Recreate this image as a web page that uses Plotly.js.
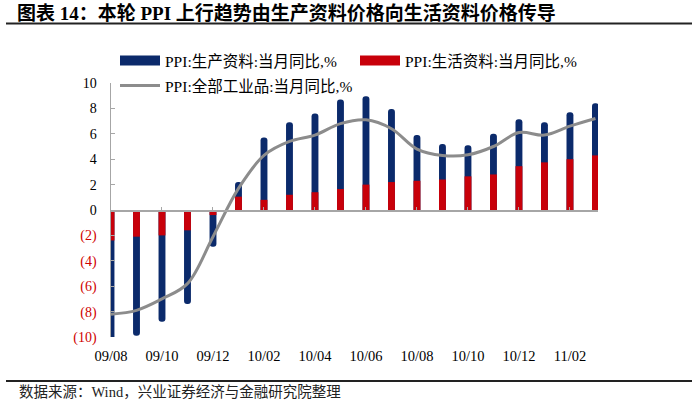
<!DOCTYPE html>
<html>
<head>
<meta charset="utf-8">
<script src="https://cdn.plot.ly/plotly-3.0.1.min.js"></script>
<style>
html,body{margin:0;padding:0;background:#fff;}
#chart{width:700px;height:401px;}
</style>
</head>
<body>
<div id="chart"></div>
<script>
// ---- data ----
var months = ['09/08','09/09','09/10','09/11','09/12','10/01','10/02','10/03','10/04','10/05',
              '10/06','10/07','10/08','10/09','10/10','10/11','10/12','11/01','11/02','11/03'];
var producer = [-10.6, -9.9, -8.8, -7.4, -2.9, 2.2, 5.7, 6.9, 7.6, 8.7,
                 8.95, 7.95, 5.9, 5.2, 5.1, 6.0, 7.15, 6.9, 7.7, 8.4];
var consumer = [-2.4, -2.1, -2.0, -1.6, -0.4, 1.05, 0.8, 1.2, 1.4, 1.65,
                 2.0, 2.2, 2.3, 2.4, 2.65, 2.8, 3.45, 3.75, 4.0, 4.3];
var overall  = [-8.2, -7.9, -7.0, -5.8, -2.1, 1.7, 4.3, 5.4, 5.9, 6.8,
                 7.1, 6.4, 4.8, 4.3, 4.35, 5.0, 6.1, 5.9, 6.6, 7.2];
var nameProducer = 'PPI:生产资料:当月同比,%';
var nameConsumer = 'PPI:生活资料:当月同比,%';
var nameOverall  = 'PPI:全部工业品:当月同比,%';
var yTickVals = [10, 8, 6, 4, 2, 0, -2, -4, -6, -8, -10];
var titleText = '图表 14：本轮 PPI 上行趋势由生产资料价格向生活资料价格传导';
var sourceText = '数据来源：Wind，兴业证券经济与金融研究院整理';

// ---- derived ----
var xTickVals = months.filter(function(m, i){ return i % 2 === 0; });
var yTickText = yTickVals.map(function(v){
  return v < 0 ? '<span style="color:#d00000">(' + Math.abs(v) + ')</span>' : String(v);
});

var BLUE = '#0b2a6b', RED = '#c8000a', GRAY = '#8c8c8c';
var serif = '"Liberation Serif", "Noto Sans CJK SC", serif';

var traces = [
  {type:'bar', x:months, y:producer, name:nameProducer, marker:{color:BLUE, cornerradius:'50%'},
   width:0.27, showlegend:false, hoverinfo:'y'},
  {type:'bar', x:months, y:consumer, name:nameConsumer, marker:{color:RED, cornerradius:'50%'},
   width:0.27, showlegend:false, hoverinfo:'y'},
  {type:'scatter', mode:'lines', x:months, y:overall, name:nameOverall, xaxis:'x2',
   line:{color:GRAY, width:3, shape:'spline', smoothing:1}, legend:'legend2'},
  // legend swatches
  {type:'scatter', mode:'lines', x:[null], y:[null], name:nameProducer,
   line:{color:BLUE, width:10}, legend:'legend', hoverinfo:'skip'},
  {type:'scatter', mode:'lines', x:[null], y:[null], name:nameConsumer,
   line:{color:RED, width:10}, legend:'legend3', hoverinfo:'skip'}
];

var L = 111, R = 102, T = 83, B = 64;
var W = 700 - L - R, H = 401 - T - B;
function px(xp){ return (xp - L) / W; }
function py(yp){ return (401 - B - yp) / H; }
var legFont = {family:serif, size:15.5, color:'#000'};
function leg(xp, yp){
  return {orientation:'h', x:px(xp), xanchor:'left', y:py(yp), yanchor:'middle',
          itemwidth:40, font:legFont, bgcolor:'rgba(0,0,0,0)', borderwidth:0};
}

var layout = {
  width:700, height:401,
  margin:{l:L, r:R, t:T, b:B, pad:0},
  paper_bgcolor:'#fff', plot_bgcolor:'#fff',
  barmode:'overlay',
  font:{family:serif, size:14, color:'#000'},
  title:{text:'<b>' + titleText + '</b>', xref:'container', yref:'container',
         x:17/700, xanchor:'left', y:1 - 13/401, yanchor:'middle',
         font:{family:serif, size:19, color:'#000'}},
  xaxis:{type:'category', range:[0, 19.1], showline:false, showgrid:false, zeroline:false,
         tickmode:'array', tickvals:xTickVals, ticktext:xTickVals, ticks:'',
         ticklabelstandoff:8, tickfont:{family:serif, size:14.5, color:'#000'}, fixedrange:true},
  xaxis2:{type:'category', overlaying:'x', anchor:'free', position:0.5, range:[0, 19.1],
          showline:true, linecolor:'#a6a6a6', linewidth:1.5, showgrid:false, zeroline:false,
          tickmode:'array', tickvals:xTickVals, ticks:'inside', ticklen:3, tickcolor:'#a6a6a6',
          showticklabels:false, fixedrange:true},
  yaxis:{range:[-10, 10], tickmode:'array', tickvals:yTickVals, ticktext:yTickText,
         showline:true, linecolor:'#a6a6a6', linewidth:1.5, ticks:'inside', ticklen:4,
         tickcolor:'#a6a6a6', showgrid:false, zeroline:false, ticklabelstandoff:10,
         tickfont:{family:serif, size:14, color:'#000'}, fixedrange:true},
  legend: leg(115, 61),
  legend3: leg(355, 61),
  legend2: leg(115, 86),
  shapes:[
    {type:'line', xref:'paper', yref:'paper', x0:px(6), x1:px(692), y0:py(23.5), y1:py(23.5),
     line:{color:'#222', width:2}},
    {type:'line', xref:'paper', yref:'paper', x0:px(6), x1:px(692), y0:py(381), y1:py(381),
     line:{color:'#222', width:2}}
  ],
  annotations:[
    {text:sourceText, xref:'paper', yref:'paper', x:px(17), y:py(392), xanchor:'left',
     yanchor:'middle', showarrow:false, font:{family:serif, size:14.5, color:'#222'}}
  ]
};

Plotly.newPlot('chart', traces, layout, {displayModeBar:false, staticPlot:true});
</script>
</body>
</html>
